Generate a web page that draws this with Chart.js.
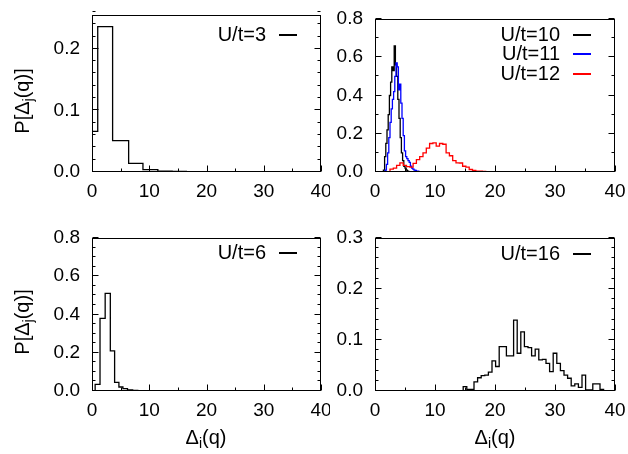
<!DOCTYPE html>
<html lang="en">
<head>
  <meta charset="UTF-8" />
  <title>Gap distributions</title>
  <script src="https://cdn.jsdelivr.net/npm/chart.js"></script>
  <style>
    * { margin: 0; padding: 0; box-sizing: border-box; }
    body {
      width: 628px; height: 454px; background: #fff;
      position: relative; overflow: hidden;
      font-family: 'Liberation Sans', Arial, sans-serif; color: #000;
    }
    .panel { position: absolute; }
    .title { position: absolute; font-size: 20px; white-space: nowrap; line-height: 22px; }
    .title sub { font-size: 14px; vertical-align: -4px; line-height: 0; }
    .ytitle { transform: translate(-50%, -50%) rotate(-90deg); }
    .xtitle { transform: translate(-50%, -50%); }
    .leg { position: absolute; font-size: 20px; line-height: 22px; white-space: nowrap; text-align: right; }
    .sample { position: absolute; width: 18px; height: 1.5px; background-color: #000; }
    .blue { background-color: #0000ff; }
    .red { background-color: #ff0000; }
  </style>
</head>
<body>
  <div class="panel" style="left:0;top:0"><canvas id="c1" width="330" height="215"></canvas></div>
  <div class="panel" style="left:330px;top:0"><canvas id="c2" width="298" height="215"></canvas></div>
  <div class="panel" style="left:0;top:215px"><canvas id="c3" width="330" height="239"></canvas></div>
  <div class="panel" style="left:330px;top:215px"><canvas id="c4" width="298" height="239"></canvas></div>

  <div class="title ytitle" style="left:22px;top:101px">P[Δ<sub>j</sub>(q)]</div>
  <div class="title ytitle" style="left:22px;top:322px">P[Δ<sub>j</sub>(q)]</div>
  <div class="title xtitle" style="left:206px;top:437px">Δ<sub>i</sub>(q)</div>
  <div class="title xtitle" style="left:495px;top:437px">Δ<sub>i</sub>(q)</div>

  <!-- legends -->
  <div class="leg" style="right:362px;top:23px">U/t=3</div>
  <div class="sample" style="left:279px;top:34px"></div>
  <div class="leg" style="right:68px;top:23px">U/t=10</div>
  <div class="sample" style="left:573px;top:34px"></div>
  <div class="leg" style="right:68px;top:42px">U/t=11</div>
  <div class="sample blue" style="left:573px;top:53px"></div>
  <div class="leg" style="right:68px;top:62px">U/t=12</div>
  <div class="sample red" style="left:573px;top:73px"></div>
  <div class="leg" style="right:362px;top:241px">U/t=6</div>
  <div class="sample" style="left:279px;top:252px"></div>
  <div class="leg" style="right:68px;top:242px">U/t=16</div>
  <div class="sample" style="left:573px;top:253px"></div>

  <script>
    // histogram data (bin edges + heights)
    const u3Edges = [0, 1.0, 3.6, 6.4, 8.9, 11.5, 14.0, 16.5];
    const u3Vals = [0.066, 0.236, 0.051, 0.014, 0.004, 0.0015, 0.001];

    const u10Start = 1.4, u10Width = 0.2;
    const u10Vals = [0.01, 0.08, 0.15, 0.22, 0.3, 0.4, 0.47, 0.55, 0.53, 0.66, 0.56,
      0.5, 0.38, 0.28, 0.18, 0.1, 0.06, 0.03, 0.02, 0.01, 0.005];

    const u11Start = 1.7, u11Width = 0.2;
    const u11Vals = [0.01, 0.04, 0.1, 0.18, 0.26, 0.33, 0.38, 0.42, 0.5, 0.57, 0.55,
      0.43, 0.46, 0.36, 0.28, 0.19, 0.11, 0.08, 0.07, 0.06, 0.05, 0.03, 0.02, 0.015,
      0.01, 0.008, 0.005, 0.004, 0.002];

    const u12Start = 2.5, u12Width = 0.55;
    const u12Vals = [0.015, 0.02, 0.035, 0.048, 0.035, 0.028, 0.025, 0.045, 0.065, 0.08,
      0.1, 0.125, 0.149, 0.152, 0.135, 0.149, 0.145, 0.1, 0.085, 0.06, 0.048, 0.047,
      0.03, 0.026, 0.013, 0.009, 0.005, 0.005, 0.003, 0.002, 0.002, 0.001, 0.002,
      0.002, 0.001, 0.002, 0.001, 0.001];

    const u6Edges = [0.55, 1.4, 2.3, 3.2, 3.95, 4.7, 5.4, 6.2, 7.1, 8.0, 9.0, 10.0, 11.0, 12.0];
    const u6Vals = [0.035, 0.38, 0.51, 0.21, 0.045, 0.021, 0.012, 0.006, 0.003, 0.002, 0.002, 0.001, 0.001];

    const u16Start = 14.7, u16Width = 0.6;
    const u16Vals = [0.0085, 0.003, 0.003, 0.018, 0.026, 0.03, 0.031, 0.037, 0.059, 0.048,
      0.087, 0.087, 0.069, 0.069, 0.139, 0.074, 0.116, 0.087, 0.085, 0.069, 0.082,
      0.061, 0.062, 0.054, 0.038, 0.074, 0.054, 0.04, 0.031, 0.025, 0.01, 0.014,
      0.007, 0.031, 0.002, 0.002, 0.014, 0.014, 0.003];

    const xTicks = [0, 10, 20, 30, 40];
    const yTicksA = [0, 0.1, 0.2];
    const yTicksB = [0, 0.2, 0.4, 0.6, 0.8];
    const yTicksC = [0, 0.1, 0.2, 0.3];

    function binEdges(start, width, n) {
      const e = [];
      for (let i = 0; i <= n; i++) e.push(+(start + i * width).toFixed(3));
      return e;
    }

    // turn edges + heights into a closed step outline
    function steps(edges, vals) {
      const pts = [{ x: edges[0], y: 0 }];
      vals.forEach((v, i) => pts.push({ x: edges[i], y: v }));
      pts.push({ x: edges[edges.length - 1], y: 0 });
      return pts;
    }

    Chart.defaults.font.family = "'Liberation Sans', Arial, sans-serif";
    Chart.defaults.font.size = 19;
    Chart.defaults.color = '#000';

    // gnuplot-like box with inward ticks
    const frameTicks = {
      id: 'frameTicks',
      afterDatasetsDraw(chart, args, o) {
        const { ctx, chartArea: a, scales: { x, y } } = chart;
        const L = Math.round(a.left) + 0.5, R = Math.round(a.right) - 0.5;
        const T = Math.round(a.top) + 0.5, B = Math.round(a.bottom) - 0.5;
        ctx.save();
        ctx.strokeStyle = '#000';
        ctx.lineWidth = 1;
        ctx.beginPath();
        const ny = Math.round(y.max / o.yMinor);
        for (let i = 0; i <= ny; i++) {
          const v = i * o.yMinor;
          const r = v / o.yMajor;
          const len = Math.abs(r - Math.round(r)) < 1e-6 ? 6 : 3;
          const py = Math.round(y.getPixelForValue(v)) - 0.5;
          ctx.moveTo(L, py); ctx.lineTo(L + len, py);
          ctx.moveTo(R, py); ctx.lineTo(R - len, py);
        }
        for (let v = 0; v <= 40; v += 5) {
          const len = v % 10 === 0 ? 6 : 3;
          const px = Math.round(x.getPixelForValue(v)) + 0.5;
          ctx.moveTo(px, B); ctx.lineTo(px, B - len);
        }
        ctx.stroke();
        ctx.strokeRect(L, T, R - L, B - T);
        ctx.restore();
      }
    };

    function panel(id, sets, yMax, yTicks, yMinor, yMajor, box) {
      const cv = document.getElementById(id);
      const W = cv.width, H = cv.height;
      new Chart(cv, {
        type: 'line',
        data: {
          datasets: sets.map(s => ({
            data: s.data,
            borderColor: s.color,
            borderWidth: 1.3,
            stepped: 'before',
            pointRadius: 0,
            fill: false
          }))
        },
        options: {
          responsive: false,
          animation: false,
          layout: { padding: { left: 0, top: box.top, right: W - box.right, bottom: 0 } },
          plugins: { legend: { display: false }, tooltip: { enabled: false }, frameTicks: { yMinor, yMajor } },
          scales: {
            x: {
              type: 'linear', min: 0, max: 40,
              grid: { display: false, drawTicks: false },
              border: { display: false },
              ticks: { padding: 8, maxRotation: 0, autoSkip: false },
              afterBuildTicks: s => { s.ticks = xTicks.map(v => ({ value: v })); },
              afterFit: s => { s.height = H - box.bottom; s.paddingLeft = 0; s.paddingRight = 0; }
            },
            y: {
              type: 'linear', min: 0, max: yMax,
              grid: { display: false, drawTicks: false },
              border: { display: false },
              ticks: { padding: 12, callback: v => v.toFixed(1) },
              afterBuildTicks: s => { s.ticks = yTicks.map(v => ({ value: v })); },
              afterFit: s => { s.width = box.left; s.paddingTop = 0; s.paddingBottom = 0; }
            }
          }
        },
        plugins: [frameTicks]
      });
    }

    panel('c1', [{ data: steps(u3Edges, u3Vals), color: '#000' }],
      0.255, yTicksA, 0.02, 0.1, { left: 92, right: 321, top: 15, bottom: 172 });

    panel('c2', [
      { data: steps(binEdges(u12Start, u12Width, u12Vals.length), u12Vals), color: '#ff0000' },
      { data: steps(binEdges(u11Start, u11Width, u11Vals.length), u11Vals), color: '#0000ff' },
      { data: steps(binEdges(u10Start, u10Width, u10Vals.length), u10Vals), color: '#000' }
    ], 0.8, yTicksB, 0.1, 0.2, { left: 45, right: 285, top: 19, bottom: 172 });

    panel('c3', [{ data: steps(u6Edges, u6Vals), color: '#000' }],
      0.8, yTicksB, 0.05, 0.2, { left: 92, right: 321, top: 23, bottom: 176 });

    panel('c4', [{ data: steps(binEdges(u16Start, u16Width, u16Vals.length), u16Vals), color: '#000' }],
      0.3, yTicksC, 0.02, 0.1, { left: 45, right: 285, top: 23, bottom: 176 });
  </script>
</body>
</html>
